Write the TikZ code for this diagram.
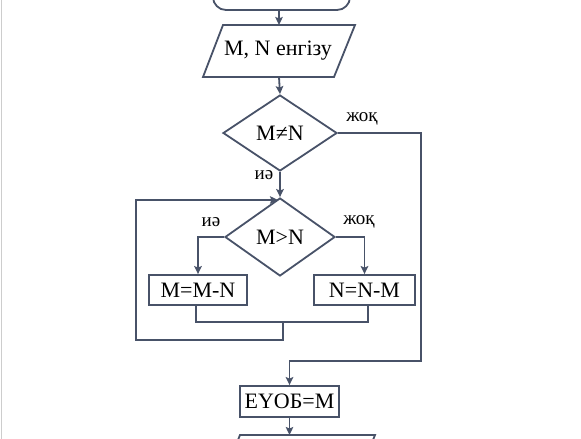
\documentclass[tikz,border=0pt]{standalone}
\usepackage{fontspec}
\setmainfont{Liberation Serif}
\usetikzlibrary{shapes.geometric,arrows.meta}
\definecolor{ln}{RGB}{72,82,104}
\begin{document}
\begin{tikzpicture}[x=1pt,y=-1pt, line width=1.8pt, color=ln,
  every node/.style={text=black},
  arr/.style={-{Stealth[length=8pt,width=7.5pt,inset=1.5pt]}},
  box/.style={draw=ln, rectangle, inner sep=0pt, font=\fontsize{22}{26}\selectfont},
  dec/.style={draw=ln, diamond, inner sep=0pt, font=\fontsize{22}{26}\selectfont},
  lbl/.style={font=\fontsize{19}{22}\selectfont, inner sep=0pt}]
\clip (0,0) rectangle (581,439);
\fill[white] (0,0) rectangle (581,439);
\draw[draw={rgb,255:red,205;green,205;blue,205}, line width=1.5pt] (1.5,0) -- (1.5,439);
% start terminal (cut at top)
\node[box, rounded corners=13pt, minimum width=137pt, minimum height=42pt] (start) at (281.5,-11) {};
% input parallelogram
\draw (223,25) -- (355,25) -- (334,77) -- (203,77) -- cycle;
\node[inner sep=0pt, font=\fontsize{22}{26}\selectfont] (inp) at (278,51) {M, N енгізу};
\coordinate (inpT) at (279,25);
\coordinate (inpB) at (279,77);
% decision 1
\node[dec, minimum width=114pt, minimum height=76pt] (d1) at (280,133) {M≠N};
% decision 2
\node[dec, minimum width=110pt, minimum height=78pt] (d2) at (280,237) {M>N};
% process boxes
\node[box, minimum width=98pt, minimum height=30pt] (b1) at (198,290) {M=M-N};
\node[box, minimum width=101pt, minimum height=30pt] (b2) at (364.5,290) {N=N-M};
\node[box, minimum width=99pt, minimum height=31pt] (b3) at (289.5,401.5) {ЕҮОБ=М};
% output parallelogram (cut at bottom)
\draw (240,435) -- (375,435) -- (354,487) -- (219,487) -- cycle;
\coordinate (outT) at (289.5,435);
% labels
\node[lbl] (l1) at (362,119) {жоқ};
\node[lbl] (l2) at (264,175) {иә};
\node[lbl] (l3) at (211,222) {иә};
\node[lbl] (l4) at (359,222) {жоқ};
% coordinates for connectors
\coordinate (r1) at (421,133);
\coordinate (r2) at (421,361);
\coordinate (r3) at (289.5,361);
\coordinate (m1) at (196,322);
\coordinate (m2) at (368,322);
\coordinate (mc) at (283,322);
\coordinate (lp1) at (283,340);
\coordinate (lp2) at (136,340);
\coordinate (lp3) at (136,200);
\coordinate (lp4) at (278,200);
% connectors
\draw[arr] (start.south -| inpT) -- (inpT);
\draw[arr] (inpB) -- (d1.north);
\draw[arr] (d1.south) -- (d2.north);
\draw[arr] (d1.east) -- (r1) -- (r2) -- (r3) -- (b3.north);
\draw[arr] (d2.west) -| (b1.north);
\draw[arr] (d2.east) -| (b2.north);
\draw (b1.south -| m1) -- (m1) -- (m2) -- (b2.south -| m2);
\draw[arr] (mc) -- (lp1) -- (lp2) -- (lp3) -- (lp4);
\draw[arr] (b3.south) -- (outT);
\end{tikzpicture}
\end{document}
